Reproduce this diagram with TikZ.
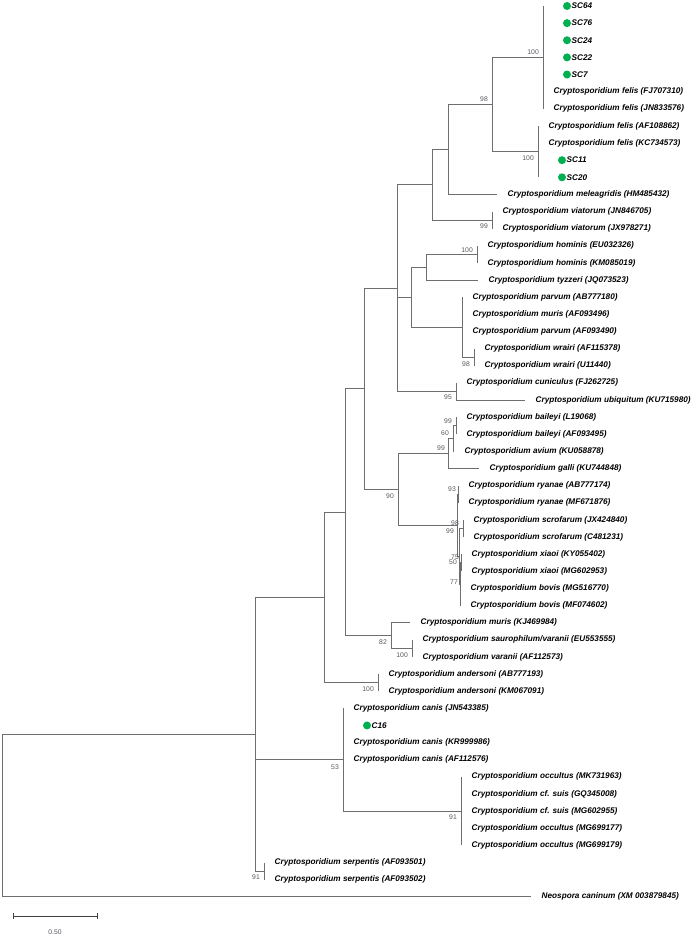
\documentclass[tikz,border=0pt]{standalone}
\usepackage{fontspec}
\setmainfont{Liberation Sans}
\usetikzlibrary{calc}
\definecolor{brc}{RGB}{110,110,110}
\definecolor{bsc}{RGB}{85,85,95}
\definecolor{dotg}{RGB}{0,176,80}
\tikzset{
 br/.style={draw=brc, line width=0.9pt},
 leaf/.style={anchor=west, inner sep=0pt, font=\fontsize{8.2}{9}\selectfont\bfseries\itshape, text=black},
 bs/.style={anchor=east, inner sep=0pt, font=\fontsize{6.8}{7}\selectfont, text=bsc},
 gdot/.style={circle, fill=dotg, inner sep=0pt, minimum size=8pt},
 sbar/.style={draw=black!75, line width=0.9pt},
}
\newcommand\tipleaf[4]{\coordinate (#1) at (#2,{6+(#3-1)*17.13}); \node[leaf] (#1L) at ($(#1)+(10.5,0)$) {#4};}
\newcommand\dotleaf[4]{\coordinate (#1) at (#2,{6+(#3-1)*17.13}); \node[gdot] (#1D) at ($(#1)+(24,0)$) {}; \node[leaf] (#1L) at ($(#1)+(28.5,0)$) {#4};}
\begin{document}
\begin{tikzpicture}[x=1pt,y=-1pt]
\useasboundingbox (0,0) rectangle (697,944);
% leaves
\dotleaf{l1}{543}{1}{SC64}
\dotleaf{l2}{543}{2}{SC76}
\dotleaf{l3}{543}{3}{SC24}
\dotleaf{l4}{543}{4}{SC22}
\dotleaf{l5}{543}{5}{SC7}
\tipleaf{l6}{543}{6}{Cryptosporidium felis (FJ707310)}
\tipleaf{l7}{543}{7}{Cryptosporidium felis (JN833576)}
\tipleaf{l8}{538}{8}{Cryptosporidium felis (AF108862)}
\tipleaf{l9}{538}{9}{Cryptosporidium felis (KC734573)}
\dotleaf{l10}{538}{10}{SC11}
\dotleaf{l11}{538}{11}{SC20}
\tipleaf{l12}{497}{12}{Cryptosporidium meleagridis (HM485432)}
\tipleaf{l13}{492}{13}{Cryptosporidium viatorum (JN846705)}
\tipleaf{l14}{492}{14}{Cryptosporidium viatorum (JX978271)}
\tipleaf{l15}{477}{15}{Cryptosporidium hominis (EU032326)}
\tipleaf{l16}{477}{16}{Cryptosporidium hominis (KM085019)}
\tipleaf{l17}{478}{17}{Cryptosporidium tyzzeri (JQ073523)}
\tipleaf{l18}{462}{18}{Cryptosporidium parvum (AB777180)}
\tipleaf{l19}{462}{19}{Cryptosporidium muris (AF093496)}
\tipleaf{l20}{462}{20}{Cryptosporidium parvum (AF093490)}
\tipleaf{l21}{474}{21}{Cryptosporidium wrairi (AF115378)}
\tipleaf{l22}{474}{22}{Cryptosporidium wrairi (U11440)}
\tipleaf{l23}{456}{23}{Cryptosporidium cuniculus (FJ262725)}
\tipleaf{l24}{525}{24}{Cryptosporidium ubiquitum (KU715980)}
\tipleaf{l25}{456}{25}{Cryptosporidium baileyi (L19068)}
\tipleaf{l26}{456}{26}{Cryptosporidium baileyi (AF093495)}
\tipleaf{l27}{454}{27}{Cryptosporidium avium (KU058878)}
\tipleaf{l28}{479}{28}{Cryptosporidium galli (KU744848)}
\tipleaf{l29}{458}{29}{Cryptosporidium ryanae (AB777174)}
\tipleaf{l30}{458}{30}{Cryptosporidium ryanae (MF671876)}
\tipleaf{l31}{463}{31}{Cryptosporidium scrofarum (JX424840)}
\tipleaf{l32}{463}{32}{Cryptosporidium scrofarum (C481231)}
\tipleaf{l33}{461}{33}{Cryptosporidium xiaoi (KY055402)}
\tipleaf{l34}{461}{34}{Cryptosporidium xiaoi (MG602953)}
\tipleaf{l35}{460}{35}{Cryptosporidium bovis (MG516770)}
\tipleaf{l36}{460}{36}{Cryptosporidium bovis (MF074602)}
\tipleaf{l37}{410}{37}{Cryptosporidium muris (KJ469984)}
\tipleaf{l38}{412}{38}{Cryptosporidium saurophilum/varanii (EU553555)}
\tipleaf{l39}{412}{39}{Cryptosporidium varanii (AF112573)}
\tipleaf{l40}{378}{40}{Cryptosporidium andersoni (AB777193)}
\tipleaf{l41}{378}{41}{Cryptosporidium andersoni (KM067091)}
\tipleaf{l42}{343}{42}{Cryptosporidium canis (JN543385)}
\dotleaf{l43}{343}{43}{C16}
\tipleaf{l44}{343}{44}{Cryptosporidium canis (KR999986)}
\tipleaf{l45}{343}{45}{Cryptosporidium canis (AF112576)}
\tipleaf{l46}{461}{46}{Cryptosporidium occultus (MK731963)}
\tipleaf{l47}{461}{47}{Cryptosporidium cf. suis (GQ345008)}
\tipleaf{l48}{461}{48}{Cryptosporidium cf. suis (MG602955)}
\tipleaf{l49}{461}{49}{Cryptosporidium occultus (MG699177)}
\tipleaf{l50}{461}{50}{Cryptosporidium occultus (MG699179)}
\tipleaf{l51}{264}{51}{Cryptosporidium serpentis (AF093501)}
\tipleaf{l52}{264}{52}{Cryptosporidium serpentis (AF093502)}
\tipleaf{l53}{531}{53}{Neospora caninum (XM 003879845)}
% internal nodes
\coordinate (Nfel1) at (543,57.39);
\coordinate (Nfel2) at (538,151.6);
\coordinate (N98) at (492,104.5);
\coordinate (N448) at (448,149.47);
\coordinate (Nvia) at (492,220.13);
\coordinate (N432) at (432,184.8);
\coordinate (Nhom) at (477,254.39);
\coordinate (N426) at (426,267.23);
\coordinate (Nwr) at (474,357.17);
\coordinate (Npar) at (462,327.19);
\coordinate (N411) at (411,297.21);
\coordinate (Ncun) at (456,391.43);
\coordinate (N397) at (397,288.11);
\coordinate (NC) at (456,425.69);
\coordinate (NB) at (453,438.53);
\coordinate (NA) at (448,453.52);
\coordinate (Nrya) at (458,494.21);
\coordinate (Nscr) at (463,528.47);
\coordinate (Nxia) at (461,562.73);
\coordinate (NY) at (460,584.14);
\coordinate (NX) at (459,556.3);
\coordinate (NR) at (457,525.25);
\coordinate (N90) at (398,489.39);
\coordinate (N364) at (364,388.75);
\coordinate (Nvar) at (412,648.38);
\coordinate (Nmur) at (391,635.53);
\coordinate (N3) at (345,512.14);
\coordinate (Nand) at (378,682.64);
\coordinate (N2) at (324,597.39);
\coordinate (Nocc) at (461,811.11);
\coordinate (Ncan) at (343,759.72);
\coordinate (Nserp) at (264,871.07);
\coordinate (N1) at (255,734.23);
\coordinate (Root) at (2,815.5);
% branches
\foreach \c in {l1,l2,l3,l4,l5,l6,l7} \draw[br] (Nfel1) |- (\c);
\foreach \c in {l8,l9,l10,l11} \draw[br] (Nfel2) |- (\c);
\draw[br] (N98) |- (Nfel1);
\draw[br] (N98) |- (Nfel2);
\draw[br] (N448) |- (N98);
\draw[br] (N448) |- (l12);
\draw[br] (Nvia) |- (l13);
\draw[br] (Nvia) |- (l14);
\draw[br] (N432) |- (N448);
\draw[br] (N432) |- (Nvia);
\draw[br] (Nhom) |- (l15);
\draw[br] (Nhom) |- (l16);
\draw[br] (N426) |- (Nhom);
\draw[br] (N426) |- (l17);
\draw[br] (Nwr) |- (l21);
\draw[br] (Nwr) |- (l22);
\foreach \c in {l18,l19,l20,Nwr} \draw[br] (Npar) |- (\c);
\draw[br] (N411) |- (N426);
\draw[br] (N411) |- (Npar);
\draw[br] (Ncun) |- (l23);
\draw[br] (Ncun) |- (l24);
\foreach \c in {N432,N411,Ncun} \draw[br] (N397) |- (\c);
\draw[br] (NC) |- (l25);
\draw[br] (NC) |- (l26);
\draw[br] (NB) |- (NC);
\draw[br] (NB) |- (l27);
\draw[br] (NA) |- (NB);
\draw[br] (NA) |- (l28);
\draw[br] (Nrya) |- (l29);
\draw[br] (Nrya) |- (l30);
\draw[br] (Nscr) |- (l31);
\draw[br] (Nscr) |- (l32);
\draw[br] (Nxia) |- (l33);
\draw[br] (Nxia) |- (l34);
\foreach \c in {Nxia,l35,l36} \draw[br] (NY) |- (\c);
\draw[br] (NX) |- (Nscr);
\draw[br] (NX) |- (NY);
\draw[br] (NR) |- (Nrya);
\draw[br] (NR) |- (NX);
\draw[br] (N90) |- (NA);
\draw[br] (N90) |- (NR);
\draw[br] (N364) |- (N397);
\draw[br] (N364) |- (N90);
\draw[br] (Nvar) |- (l38);
\draw[br] (Nvar) |- (l39);
\draw[br] (Nmur) |- (l37);
\draw[br] (Nmur) |- (Nvar);
\draw[br] (N3) |- (N364);
\draw[br] (N3) |- (Nmur);
\draw[br] (Nand) |- (l40);
\draw[br] (Nand) |- (l41);
\draw[br] (N2) |- (N3);
\draw[br] (N2) |- (Nand);
\foreach \c in {l46,l47,l48,l49,l50} \draw[br] (Nocc) |- (\c);
\foreach \c in {l42,l43,l44,l45,Nocc} \draw[br] (Ncan) |- (\c);
\draw[br] (Nserp) |- (l51);
\draw[br] (Nserp) |- (l52);
\foreach \c in {N2,Ncan,Nserp} \draw[br] (N1) |- (\c);
\draw[br] (Root) |- (N1);
\draw[br] (Root) |- (l53);
% bootstrap values
\node[bs] (b1) at ($(Nfel1)+(-4,-5.5)$) {100};
\node[bs] (b2) at ($(N98)+(-4,-5.5)$) {98};
\node[bs] (b3) at ($(Nfel2)+(-4,6.5)$) {100};
\node[bs] (b4) at ($(Nvia)+(-4,6)$) {99};
\node[bs] (b5) at ($(Nhom)+(-4,-4.5)$) {100};
\node[bs] (b6) at ($(Nwr)+(-4,6.5)$) {98};
\node[bs] (b7) at ($(Ncun)+(-4,6)$) {95};
\node[bs] (b8) at ($(NC)+(-4,-4.5)$) {99};
\node[bs] (b9) at ($(NB)+(-4,-5.5)$) {60};
\node[bs] (b10) at ($(NA)+(-3,-5.5)$) {99};
\node[bs] (b11) at ($(N90)+(-4,6.5)$) {90};
\node[bs] (b12) at (456,489) {93};
\node[bs] (b13) at (459,523) {98};
\node[bs] (b14) at (454,531) {99};
\node[bs] (b15) at (459,557) {75};
\node[bs] (b16) at (457,562) {50};
\node[bs] (b17) at (458,582) {77};
\node[bs] (b18) at ($(Nmur)+(-4,6.5)$) {82};
\node[bs] (b19) at ($(Nvar)+(-4,6.5)$) {100};
\node[bs] (b20) at ($(Nand)+(-4,6.5)$) {100};
\node[bs] (b21) at ($(Ncan)+(-4,7)$) {53};
\node[bs] (b22) at ($(Nocc)+(-4,6.5)$) {91};
\node[bs] (b23) at ($(Nserp)+(-4,6.5)$) {91};
% scale bar
\coordinate (sL) at (13,916);
\coordinate (sR) at (97,916);
\draw[sbar] (sL) -- (sR);
\draw[sbar] ($(sL)+(0,-3)$) -- ($(sL)+(0,3)$);
\draw[sbar] ($(sR)+(0,-3)$) -- ($(sR)+(0,3)$);
\node[font=\fontsize{6.8}{7}\selectfont, text=bsc, inner sep=0pt] (sT) at (55,932) {0.50};
\end{tikzpicture}
\end{document}
